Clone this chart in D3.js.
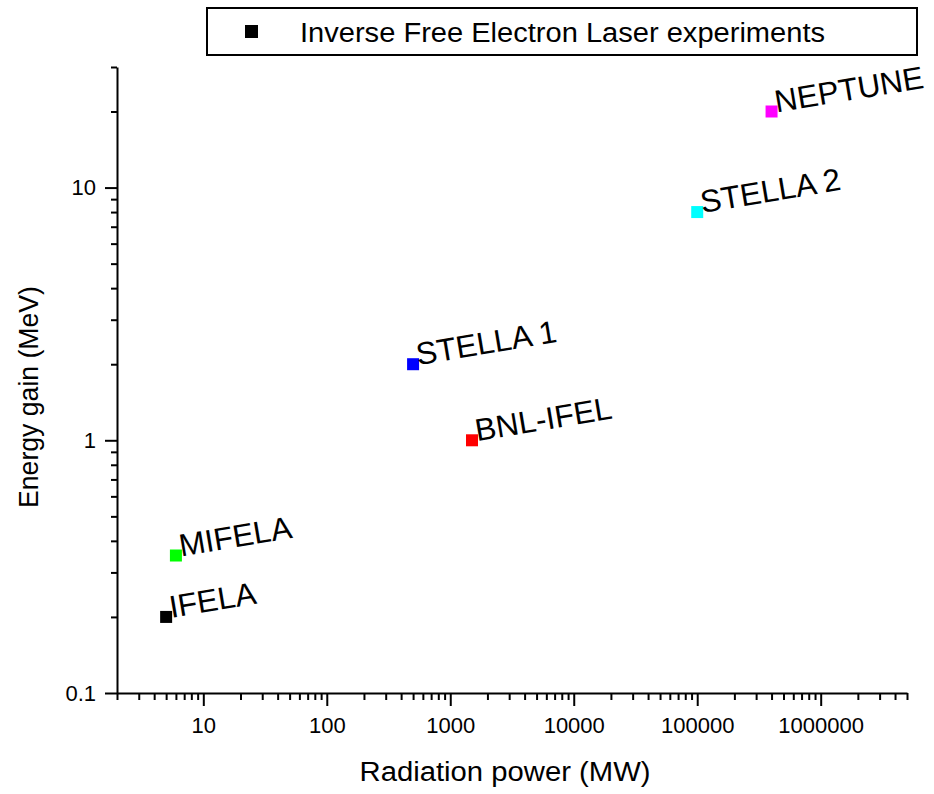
<!DOCTYPE html>
<html><head><meta charset="utf-8">
<script src="https://cdn.jsdelivr.net/npm/d3@7"></script>
<style>
body{margin:0;background:#fff;}
text{font-family:"Liberation Sans",Arial,Helvetica,sans-serif;fill:#000;}
</style></head>
<body><svg id="c" width="934" height="794"></svg>
<script>
const names = ["IFELA","MIFELA","STELLA 1","BNL-IFEL","STELLA 2","NEPTUNE"];
const power = [5, 6, 500, 1500, 100000, 400000];
const gain = [0.2, 0.35, 2, 1, 8, 20];
const colors = ["#000000","#00ff00","#0000ff","#ff0000","#00ffff","#ff00ff"];
const xMajor = [10,100,1000,10000,100000,1000000];
const xMajorLabels = ["10","100","1000","10000","100000","1000000"];
const yMajor = [0.1,1,10];
const yMajorLabels = ["0.1","1","10"];
const xDomain = [2, 5000000];
const yDomain = [0.1, 30];
const legendLabel = "Inverse Free Electron Laser experiments";
const xTitle = "Radiation power (MW)";
const yTitle = "Energy gain (MeV)";

const svg = d3.select("#c");
const L=117, R=907, T=67, B=693;
const x = d3.scaleLog().domain(xDomain).range([L,R]);
const y = d3.scaleLog().domain(yDomain).range([B,T]);

function minors(lo,hi){const out=[];for(let e=-3;e<8;e++){for(let m=1;m<10;m++){const v=m*Math.pow(10,e);const r=+v.toPrecision(6);if(r>=lo*0.999&&r<=hi*1.001&&m!==1)out.push(r);}}return out;}
const xMinor = minors(xDomain[0],xDomain[1]);
const yMinor = minors(yDomain[0],yDomain[1]);

// x axis
const gx = svg.append("g").attr("transform",`translate(0,${B})`);
gx.call(d3.axisBottom(x).tickValues(xMinor).tickFormat("").tickSize(7).tickSizeOuter(0));
const gx2 = svg.append("g").attr("transform",`translate(0,${B})`);
gx2.call(d3.axisBottom(x).tickValues(xMajor).tickFormat((d,i)=>xMajorLabels[i]).tickSize(13).tickSizeOuter(0).tickPadding(11));
gx2.select(".domain").remove();
// y axis
const gy = svg.append("g").attr("transform",`translate(${L},0)`);
gy.call(d3.axisLeft(y).tickValues(yMinor).tickFormat("").tickSize(6).tickSizeOuter(0));
const gy2 = svg.append("g").attr("transform",`translate(${L},0)`);
gy2.call(d3.axisLeft(y).tickValues(yMajor).tickFormat((d,i)=>yMajorLabels[i]).tickSize(12).tickSizeOuter(0).tickPadding(9));
gy2.select(".domain").remove();

svg.selectAll(".domain").attr("stroke","#000").attr("stroke-width",2);
svg.selectAll(".tick line").attr("stroke","#000").attr("stroke-width",2);
svg.selectAll(".tick text").attr("font-size",22).attr("font-family",'"Liberation Sans",Arial,sans-serif').attr("fill","#000");

// titles
svg.append("text").attr("x",505).attr("y",781).attr("text-anchor","middle").attr("font-size",27)
  .attr("textLength",291).attr("lengthAdjust","spacingAndGlyphs").text(xTitle);
svg.append("text").attr("transform","translate(38,397) rotate(-90)").attr("text-anchor","middle").attr("font-size",27)
  .attr("textLength",222).attr("lengthAdjust","spacingAndGlyphs").text(yTitle);

// points
const data = names.map((n,i)=>({n,p:power[i],g:gain[i],c:colors[i]}));
const s=12;
svg.selectAll("rect.pt").data(data).enter().append("rect").attr("class","pt")
  .attr("x",d=>x(d.p)-s/2).attr("y",d=>y(d.g)-s/2).attr("width",s).attr("height",s).attr("fill",d=>d.c);
svg.selectAll("text.lbl").data(data).enter().append("text").attr("class","lbl")
  .attr("transform",d=>`translate(${x(d.p)+5},${y(d.g)+1}) rotate(-9.5)`)
  .attr("font-size",31.5).text(d=>d.n);

// legend
svg.append("rect").attr("x",207).attr("y",8).attr("width",710).attr("height",47).attr("fill","none").attr("stroke","#000").attr("stroke-width",2);
svg.append("rect").attr("x",245).attr("y",25).attr("width",13).attr("height",13).attr("fill","#000");
svg.append("text").attr("x",300).attr("y",42).attr("font-size",27).attr("textLength",525).attr("lengthAdjust","spacingAndGlyphs").text(legendLabel);
</script></body></html>
